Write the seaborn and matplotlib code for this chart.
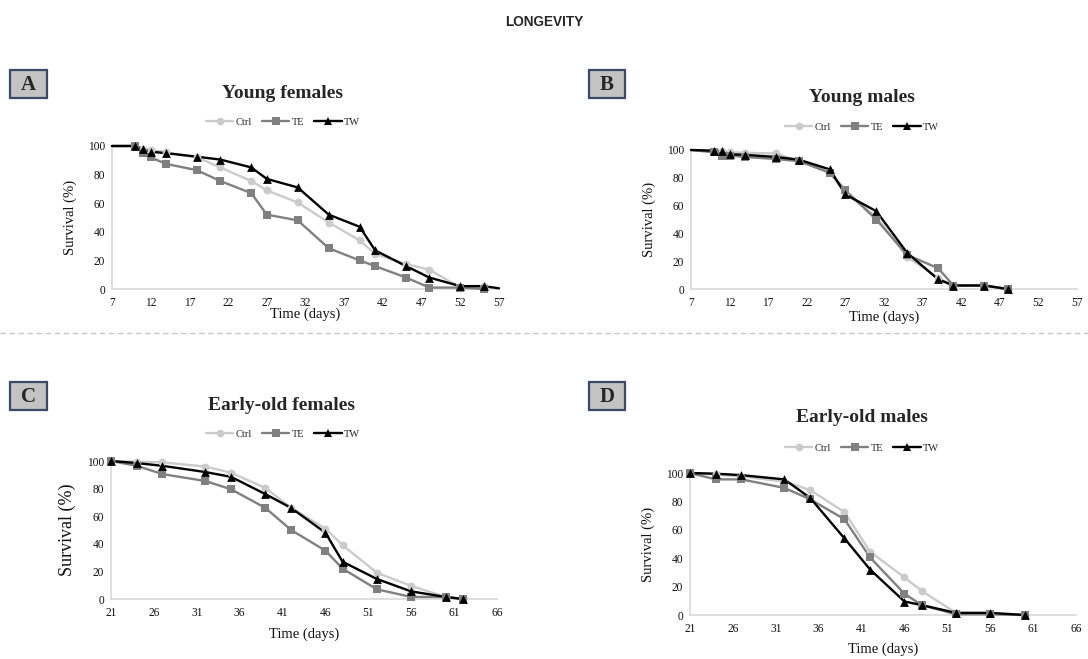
import numpy as np
import pandas as pd
import matplotlib
matplotlib.use("Agg")
import matplotlib.pyplot as plt
import seaborn as sns
from matplotlib.lines import Line2D
from matplotlib.patches import Rectangle

# ---------------- data ----------------
groups = ["Ctrl", "TE", "TW"]

# A: Young females
a_days = [7, 10, 11, 12, 14, 18, 21, 25, 27, 31, 35, 39, 41, 45, 48, 52, 55]
a_days_tw = [7, 10, 11, 12, 14, 18, 21, 25, 27, 31, 35, 39, 41, 45, 48, 52, 55, 57]
a_ctrl = [100, 100, 98, 97.5, 95.5, 92, 85, 75.5, 69, 60.5, 46.5, 34, 24.5, 17.5, 13.5, 1, 2]
a_te = [100, 100, 95, 92, 87.5, 83, 75.5, 67, 52, 48, 28.5, 20, 16, 8, 1, 1, 0]
a_tw = [100, 100, 98, 96, 95, 92.5, 90.5, 85, 77, 71, 52, 43.5, 27, 16, 8, 2, 2, 0.5]

# B: Young males
b_days = [7, 10, 11, 12, 14, 18, 21, 25, 27, 31, 35, 39, 41, 45, 48]
b_ctrl = [100, 99.5, 99, 98.5, 98, 97.5, 92, 84, 69, 52, 23, 8, 2.5, 3, 0]
b_te = [100, 98.3, 96, 96, 95, 93.5, 92, 83.5, 71, 50, 24.5, 15, 2.5, 2.5, 0]
b_tw = [100, 99.5, 99, 97, 96.5, 95, 93, 86, 68, 56, 26, 7, 2.5, 2.5, 0]

# C: Early-old females
c_days = [21, 24, 27, 32, 35, 39, 42, 46, 48, 52, 56, 60, 62]
c_ctrl = [100, 99.5, 99, 96, 91.5, 80.5, 66, 51, 39, 19, 9.5, 1.5, 0]
c_te = [100, 96.5, 90.5, 85.5, 79.5, 66, 50, 35, 22, 7, 1.5, 1.5, 0]
c_tw = [100, 98.5, 96.5, 92, 88.5, 76, 66, 48, 27, 14.5, 5.5, 1.5, 0]

# D: Early-old males
d_days = [21, 24, 27, 32, 35, 39, 42, 46, 48, 52, 56, 60]
d_ctrl = [100, 99, 97.5, 94, 88, 72.5, 44.5, 26.5, 17, 1.5, 1, 0]
d_te = [100, 95.5, 95.5, 89.5, 81.5, 67.5, 40.5, 15, 7, 0.5, 0.5, 0]
d_tw = [100, 99.5, 98.5, 95.5, 82.5, 54, 32, 9.5, 7, 1.5, 1.5, 0]

y_ticks = [0, 20, 40, 60, 80, 100]

# ---------------- style ----------------
sns.set_theme(style="white")
plt.rcParams["font.family"] = ["Liberation Serif", "DejaVu Serif"]

colors = {"Ctrl": "#cbcbcb", "TE": "#808080", "TW": "#000000"}
markers = {"Ctrl": "o", "TE": "s", "TW": "^"}
msize = {"Ctrl": 32, "TE": 32, "TW": 40}
axis_grey = "#d9d9d9"

W, H = 1088, 659
fig = plt.figure(figsize=(W / 100, H / 100), dpi=100)


def rect(l, t, r, b):
    return [l / W, 1 - b / H, (r - l) / W, (b - t) / H]


def fx(x):
    return x / W


def fy(y):
    return 1 - y / H


def build(days_list, vals_list, line_only):
    frames = []
    for g, d, v in zip(groups, days_list, vals_list):
        df = pd.DataFrame({"day": d, "survival": v, "group": g})
        df["marked"] = ~df["day"].isin(line_only.get(g, []))
        frames.append(df)
    return pd.concat(frames, ignore_index=True)


panels = [
    dict(letter="A", title="Young females",
         df=build([a_days, a_days, a_days_tw], [a_ctrl, a_te, a_tw],
                  {"Ctrl": [7], "TE": [7], "TW": [7, 57]}),
         xlim=(7, 57), box=(10, 70, 47, 98), ax=(112, 146, 499, 289),
         title_xy=(282, 93), leg_xy=(283, 122), ylab=10.5, xpad=-1),
    dict(letter="B", title="Young males",
         df=build([b_days, b_days, b_days], [b_ctrl, b_te, b_tw],
                  {"Ctrl": [7], "TE": [7], "TW": [7]}),
         xlim=(7, 57), box=(589, 70, 625, 98), ax=(691, 150, 1077, 289),
         title_xy=(862, 98), leg_xy=(862, 127), ylab=10.5, xpad=1),
    dict(letter="C", title="Early-old females",
         df=build([c_days, c_days, c_days], [c_ctrl, c_te, c_tw], {}),
         xlim=(21, 66), box=(10, 382, 47, 410), ax=(111, 461, 497, 599),
         title_xy=(281, 405), leg_xy=(283, 434), ylab=13, xpad=6),
    dict(letter="D", title="Early-old males",
         df=build([d_days, d_days, d_days], [d_ctrl, d_te, d_tw], {}),
         xlim=(21, 66), box=(589, 382, 625, 410), ax=(690, 473, 1076, 615),
         title_xy=(862, 418), leg_xy=(862, 448), ylab=10.5, xpad=5),
]

for p in panels:
    l, t, r, b = p["ax"]
    ax = fig.add_axes(rect(l, t, r, b))
    df = p["df"]
    for g in groups:
        sub = df[df["group"] == g]
        sns.lineplot(data=sub, x="day", y="survival", color=colors[g], lw=1.7,
                     ax=ax, legend=False, clip_on=False, zorder=3)
        sns.scatterplot(data=sub[sub["marked"]], x="day", y="survival",
                        color=colors[g], marker=markers[g], s=msize[g],
                        linewidth=0, ax=ax, legend=False, clip_on=False, zorder=4)
    x0, x1 = p["xlim"]
    ax.set_xlim(x0, x1)
    ax.set_ylim(0, 100)
    ax.set_xticks(np.arange(x0, x1 + 1, 5))
    ax.set_yticks(y_ticks)
    for s in ["top", "right"]:
        ax.spines[s].set_visible(False)
    for s in ["left", "bottom"]:
        ax.spines[s].set_color(axis_grey)
        ax.spines[s].set_linewidth(1.2)
    ax.tick_params(axis="both", direction="out", length=4, width=1,
                   color=axis_grey, labelsize=8.3, pad=2, labelcolor="#111111")
    ax.tick_params(axis="y", length=0, pad=5)
    ax.set_xlabel("Time (days)", fontsize=10.5, labelpad=p["xpad"], color="#111111")
    ax.set_ylabel("Survival (%)", fontsize=p["ylab"], labelpad=8, color="#111111")
    ax.grid(False)

    # legend
    handles = [Line2D([0], [0], color=colors[g], marker=markers[g], lw=1.7,
                      markersize=5.5 if g != "TW" else 6, markeredgewidth=0)
               for g in groups]
    lx, ly = p["leg_xy"]
    ax.legend(handles, groups, loc="center", bbox_to_anchor=(fx(lx), fy(ly)),
              bbox_transform=fig.transFigure, ncol=3, frameon=False, fontsize=7.5,
              handlelength=2.6, handletextpad=0.2, columnspacing=1.0,
              borderaxespad=0, borderpad=0)

    # title
    tx, ty = p["title_xy"]
    fig.text(fx(tx), fy(ty), p["title"], ha="center", va="center",
             fontsize=14, fontweight="bold")

    # boxed letter
    bl, bt, br, bb = p["box"]
    fig.add_artist(Rectangle((fx(bl), fy(bb)), fx(br - bl), (bb - bt) / H,
                             transform=fig.transFigure, facecolor="#c3c3c3",
                             edgecolor="#3b4a66", linewidth=1.6))
    fig.text(fx((bl + br) / 2), fy((bt + bb) / 2 + 1), p["letter"], ha="center",
             va="center", fontsize=15, fontweight="bold")

# overall title
fig.text(0.5, fy(22), "LONGEVITY", ha="center", va="center", fontsize=9.8,
         fontweight="bold", family=["Liberation Sans", "DejaVu Sans"])

# dashed separator
fig.add_artist(Line2D([0, 1], [fy(333), fy(333)], transform=fig.transFigure,
                      color="#c8c8c8", lw=1, ls=(0, (4, 2.5))))

fig.savefig("out.png", dpi=100)
